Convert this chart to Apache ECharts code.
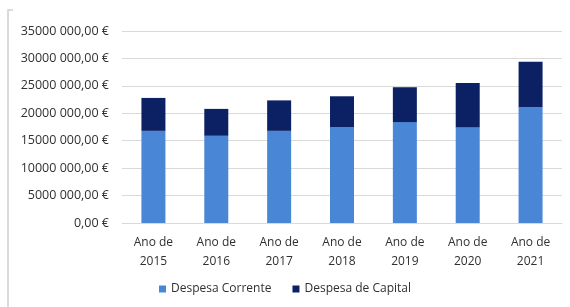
<!DOCTYPE html>
<html>
<head>
<meta charset="utf-8">
<script src="https://cdn.jsdelivr.net/npm/echarts@6/dist/echarts.min.js"></script>
<style>
  html, body { margin: 0; padding: 0; background: #fff; }
  #chart { width: 570px; height: 307px; }
</style>
</head>
<body>
<div id="chart"></div>
<script>
// categorias e valores (em euros)
const anos = ['Ano de\n2015', 'Ano de\n2016', 'Ano de\n2017', 'Ano de\n2018', 'Ano de\n2019', 'Ano de\n2020', 'Ano de\n2021'];
const despesaCorrente = [16800000, 15900000, 16800000, 17500000, 18400000, 17400000, 21100000];
const despesaCapital = [6000000, 4900000, 5550000, 5600000, 6350000, 8100000, 8300000];

// formato "35000 000,00 €"
function formatEuro(v) {
  if (v === 0) return '0,00 €';
  const milhares = Math.floor(v / 1000);
  const resto = String(v % 1000).padStart(3, '0');
  return milhares + ' ' + resto + ',00 €';
}

const chart = echarts.init(document.getElementById('chart'));
const fonte = '"Open Sans", sans-serif';
const option = {
  animation: false,
  textStyle: { fontFamily: fonte },
  graphic: [
    // moldura do gráfico (recortada)
    {
      type: 'polyline',
      shape: { points: [[13, 10], [8, 10], [8, 307]] },
      style: { stroke: '#d0d0d0', lineWidth: 1.5, fill: null },
    },
  ],
  grid: {
    left: 122,
    right: 8,
    top: 31,
    bottom: 84,
  },
  legend: {
    bottom: 7,
    left: 'center',
    itemWidth: 7,
    itemHeight: 7,
    itemGap: 21,
    icon: 'rect',
    textStyle: { color: '#303030', fontSize: 12, fontFamily: fonte },
    data: ['Despesa Corrente', 'Despesa de Capital'],
  },
  xAxis: {
    type: 'category',
    data: anos,
    axisLine: { lineStyle: { color: '#d9d9d9' } },
    axisTick: { show: false },
    axisLabel: {
      color: '#303030',
      fontSize: 12,
      lineHeight: 19,
      margin: 10,
      interval: 0,
      fontFamily: fonte,
    },
  },
  yAxis: {
    type: 'value',
    min: 0,
    max: 35000000,
    interval: 5000000,
    axisLine: { show: false },
    axisTick: { show: false },
    splitLine: { lineStyle: { color: '#d9d9d9', width: 1 } },
    axisLabel: {
      color: '#303030',
      fontSize: 12.5,
      margin: 13,
      fontFamily: fonte,
      formatter: formatEuro,
    },
  },
  series: [
    {
      name: 'Despesa Corrente',
      type: 'bar',
      stack: 'total',
      barWidth: 24,
      itemStyle: { color: '#4a86d6' },
      data: despesaCorrente,
    },
    {
      name: 'Despesa de Capital',
      type: 'bar',
      stack: 'total',
      barWidth: 24,
      itemStyle: { color: '#0c2163' },
      data: despesaCapital,
    },
  ],
};
chart.setOption(option);
</script>
</body>
</html>
